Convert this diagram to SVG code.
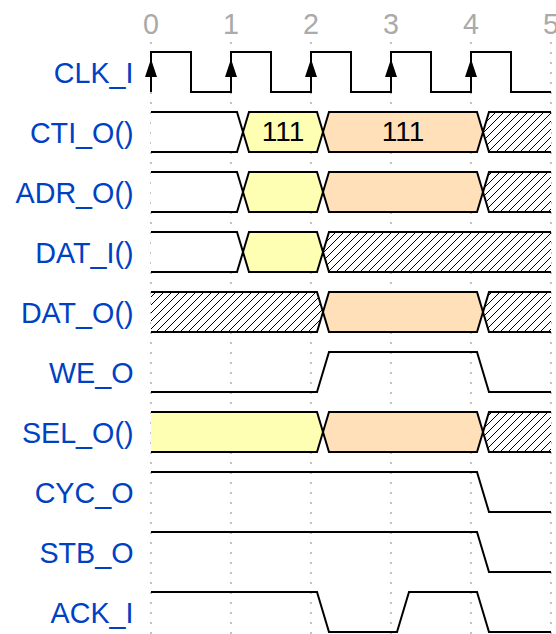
<svg xmlns="http://www.w3.org/2000/svg" width="556" height="634" viewBox="0 0 556 634">
<style>
.lbl{font-family:"Liberation Sans",Arial,Helvetica,sans-serif;font-size:28.7px;fill:#0041c4;text-anchor:end}
.tick{font-family:"Liberation Sans",Arial,Helvetica,sans-serif;font-size:28.7px;fill:#aaa;text-anchor:middle}
.val{font-family:"Liberation Sans",Arial,Helvetica,sans-serif;font-size:28px;fill:#000;text-anchor:middle}
.w{fill:none;stroke:#000;stroke-width:2}
.grid{stroke:#999;stroke-width:1.2;stroke-dasharray:2 8}
.wh{fill:#fff;stroke:none}
.y{fill:#ffffb4;stroke:none}
.o{fill:#ffe0b9;stroke:none}
.h{fill:url(#hatch);stroke:none}
.arr{fill:#000}
</style>
<defs>
<pattern id="hatch" patternUnits="userSpaceOnUse" width="8" height="8">
<rect width="8" height="8" fill="#fff"/>
<path d="M-2,2 L2,-2 M0,8 L8,0 M6,10 L10,6" stroke="#000" stroke-width="1"/>
</pattern>
</defs>
<rect width="556" height="634" fill="#fff"/>
<g id="ticks">
<text class="tick" x="151" y="33.5">0</text>
<text class="tick" x="231" y="33.5">1</text>
<text class="tick" x="311" y="33.5">2</text>
<text class="tick" x="391" y="33.5">3</text>
<text class="tick" x="471" y="33.5">4</text>
<text class="tick" x="551" y="33.5">5</text>
</g>
<g id="gridlines">
<path class="grid" d="M151,42 V634 M231,42 V634 M311,42 V634 M391,42 V634 M471,42 V634 M551,42 V634"/>
</g>
<g id="CLK_I">
<text class="lbl" x="133.5" y="82.5">CLK_I</text>
<path class="w" d="M151,92 V52 H191 V92 H231 V52 H271 V92 H311 V52 H351 V92 H391 V52 H431 V92 H471 V52 H511 V92 H551"/>
<path class="arr" d="M151,59 L145,77 L157,77 Z M231,59 L225,77 L237,77 Z M311,59 L305,77 L317,77 Z M391,59 L385,77 L397,77 Z M471,59 L465,77 L477,77 Z"/>
</g>
<g id="CTI_O">
<text class="lbl" x="133.5" y="142.5">CTI_O()</text>
<polygon class="wh" points="151,112 237,112 243,132 237,152 151,152"/>
<polygon class="y" points="243,132 249,112 317,112 323,132 317,152 249,152"/>
<polygon class="o" points="323,132 329,112 477,112 483,132 477,152 329,152"/>
<polygon class="h" points="483,132 489,112 551,112 551,152 489,152"/>
<path class="w" d="M151,112 H237 L249,152 H317 L329,112 H477 L489,152 H551 M151,152 H237 L249,112 H317 L329,152 H477 L489,112 H551"/>
<text class="val" x="283" y="141">111</text>
<text class="val" x="403" y="141">111</text>
</g>
<g id="ADR_O">
<text class="lbl" x="133.5" y="202.5">ADR_O()</text>
<polygon class="wh" points="151,172 237,172 243,192 237,212 151,212"/>
<polygon class="y" points="243,192 249,172 317,172 323,192 317,212 249,212"/>
<polygon class="o" points="323,192 329,172 477,172 483,192 477,212 329,212"/>
<polygon class="h" points="483,192 489,172 551,172 551,212 489,212"/>
<path class="w" d="M151,172 H237 L249,212 H317 L329,172 H477 L489,212 H551 M151,212 H237 L249,172 H317 L329,212 H477 L489,172 H551"/>
</g>
<g id="DAT_I">
<text class="lbl" x="133.5" y="262.5">DAT_I()</text>
<polygon class="wh" points="151,232 237,232 243,252 237,272 151,272"/>
<polygon class="y" points="243,252 249,232 317,232 323,252 317,272 249,272"/>
<polygon class="h" points="323,252 329,232 551,232 551,272 329,272"/>
<path class="w" d="M151,232 H237 L249,272 H317 L329,232 H551 M151,272 H237 L249,232 H317 L329,272 H551"/>
</g>
<g id="DAT_O">
<text class="lbl" x="133.5" y="322.5">DAT_O()</text>
<polygon class="h" points="151,292 317,292 323,312 317,332 151,332"/>
<polygon class="o" points="323,312 329,292 477,292 483,312 477,332 329,332"/>
<polygon class="h" points="483,312 489,292 551,292 551,332 489,332"/>
<path class="w" d="M151,292 H317 L329,332 H477 L489,292 H551 M151,332 H317 L329,292 H477 L489,332 H551"/>
</g>
<g id="WE_O">
<text class="lbl" x="133.5" y="382.5">WE_O</text>
<path class="w" d="M151,392 H317 L329,352 H477 L489,392 H551"/>
</g>
<g id="SEL_O">
<text class="lbl" x="133.5" y="442.5">SEL_O()</text>
<polygon class="y" points="151,412 317,412 323,432 317,452 151,452"/>
<polygon class="o" points="323,432 329,412 477,412 483,432 477,452 329,452"/>
<polygon class="h" points="483,432 489,412 551,412 551,452 489,452"/>
<path class="w" d="M151,412 H317 L329,452 H477 L489,412 H551 M151,452 H317 L329,412 H477 L489,452 H551"/>
</g>
<g id="CYC_O">
<text class="lbl" x="133.5" y="502.5">CYC_O</text>
<path class="w" d="M151,472 H477 L489,512 H551"/>
</g>
<g id="STB_O">
<text class="lbl" x="133.5" y="562.5">STB_O</text>
<path class="w" d="M151,532 H477 L489,572 H551"/>
</g>
<g id="ACK_I">
<text class="lbl" x="133.5" y="622.5">ACK_I</text>
<path class="w" d="M151,592 H317 L329,632 H397 L409,592 H477 L489,632 H551"/>
</g>
<g id="connectors"/>
</svg>
